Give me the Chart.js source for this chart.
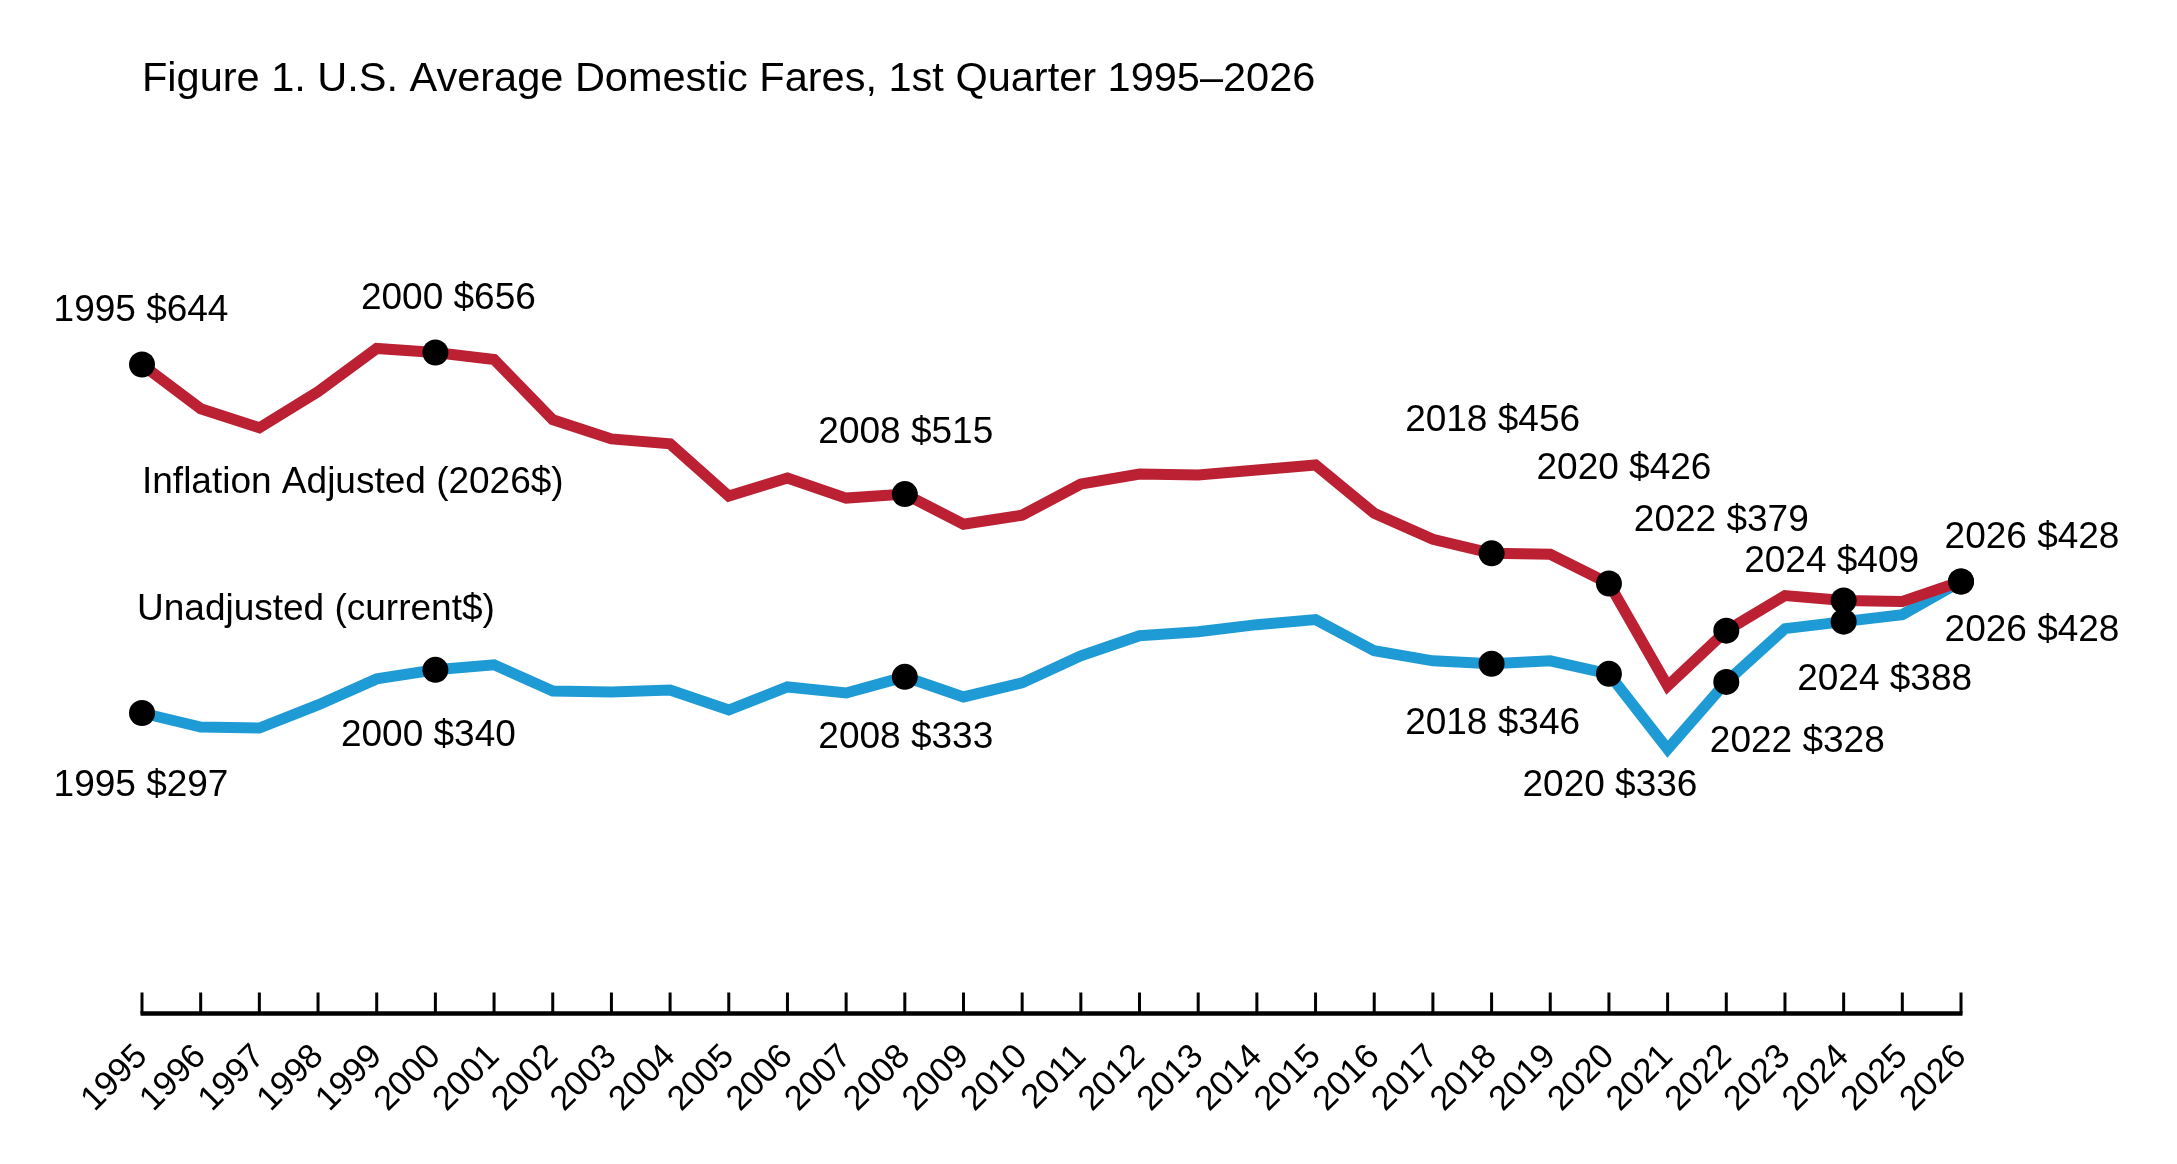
<!DOCTYPE html>
<html>
<head>
<meta charset="utf-8">
<title>U.S. Average Domestic Fares</title>
<script src="https://cdn.jsdelivr.net/npm/chart.js@4.4.1/dist/chart.umd.min.js"></script>
<style>
  html, body { margin: 0; padding: 0; background: #fff; }
  #wrap { width: 2177px; height: 1164px; position: relative; }
</style>
</head>
<body>
<div id="wrap"><canvas id="c"></canvas></div>
<script>
// ---- data
const years = [1995, 1996, 1997, 1998, 1999, 2000, 2001, 2002, 2003, 2004, 2005, 2006, 2007, 2008, 2009, 2010,
               2011, 2012, 2013, 2014, 2015, 2016, 2017, 2018, 2019, 2020, 2021, 2022, 2023, 2024, 2025, 2026];
const inflationAdjusted = [644, 600, 581, 617, 660, 656, 649, 589, 570, 565, 513, 531, 511, 515, 485, 494,
                           525, 535, 534, 539, 544, 496, 470, 456, 455, 426, 324, 379, 414, 409, 408, 428];
const unadjusted = [297, 283, 282, 305, 331, 340, 345, 319, 318, 320, 300, 323, 317, 333, 313, 327,
                    354, 374, 378, 385, 390, 359, 349, 346, 349, 336, 261, 328, 381, 388, 395, 428];

const titleText = "Figure 1. U.S. Average Domestic Fares, 1st Quarter 1995\u20132026";
const seriesNames = ["Inflation Adjusted (2026$)", "Unadjusted (current$)"];

// labelled points
const redNoteYears  = [1995, 2000, 2008, 2018, 2020, 2022, 2024, 2026];
const redNoteText   = ["1995 $644", "2000 $656", "2008 $515", "2018 $456", "2020 $426", "2022 $379", "2024 $409", "2026 $428"];
const blueNoteYears = [1995, 2000, 2008, 2018, 2020, 2022, 2024, 2026];
const blueNoteText  = ["1995 $297", "2000 $340", "2008 $333", "2018 $346", "2020 $336", "2022 $328", "2024 $388", "2026 $428"];

// ---- styling / placement
const FONT = "'Liberation Sans', Arial, Helvetica, sans-serif";
const RED = "#bb2033", BLUE = "#1e9ad5";
// text-centre offsets from each labelled dot, px
const redNoteOffsets  = [[-1, -54], [13, -54], [1, -61], [1, -133], [15, -115], [-5, -110], [-12, -39], [71, -44]];
const blueNoteOffsets = [[-1, 73], [-7, 66], [1, 61], [1, 60], [1, 112], [71, 60], [41, 58], [71, 49]];

const radiusFor = noteYears => years.map(y => noteYears.indexOf(y) >= 0 ? 13 : 0);

const notesPlugin = {
  id: "notes",
  afterDatasetsDraw(chart) {
    const ctx = chart.ctx;
    const x = chart.scales.x, y = chart.scales.y;
    ctx.save();
    ctx.fillStyle = "#000";
    ctx.font = "37px " + FONT;
    ctx.textAlign = "center";
    ctx.textBaseline = "middle";
    const put = (noteYears, texts, offs, vals) => noteYears.forEach((yr, i) => {
      const k = years.indexOf(yr);
      ctx.fillText(texts[i], x.getPixelForValue(k) + offs[i][0], y.getPixelForValue(vals[k]) + offs[i][1]);
    });
    put(redNoteYears, redNoteText, redNoteOffsets, inflationAdjusted);
    put(blueNoteYears, blueNoteText, blueNoteOffsets, unadjusted);
    // series names, left aligned at the first year
    ctx.textAlign = "left";
    const x0 = x.getPixelForValue(0);
    ctx.fillText(seriesNames[0], x0, y.getPixelForValue(inflationAdjusted[0]) + 118);
    ctx.fillText(seriesNames[1], x0 - 5, y.getPixelForValue(unadjusted[0]) - 103);
    ctx.restore();
  },
};

// axis line with tick marks pointing up into the plot
const axisPlugin = {
  id: "axisUp",
  afterDraw(chart) {
    const ctx = chart.ctx, x = chart.scales.x;
    const base = chart.chartArea.bottom;
    ctx.save();
    ctx.strokeStyle = "#000";
    ctx.lineWidth = 3;
    x.ticks.forEach((t, i) => {
      const px = x.getPixelForTick(i);
      ctx.beginPath();
      ctx.moveTo(px, base - 21);
      ctx.lineTo(px, base);
      ctx.stroke();
    });
    ctx.lineWidth = 4.5;
    ctx.beginPath();
    ctx.moveTo(x.getPixelForTick(0) - 1.5, base);
    ctx.lineTo(x.getPixelForTick(x.ticks.length - 1) + 1.5, base);
    ctx.stroke();
    ctx.restore();
  },
};

new Chart(document.getElementById("c"), {
  type: "line",
  data: {
    labels: years.map(String),
    datasets: [
      { label: seriesNames[0], data: inflationAdjusted, borderColor: RED, borderWidth: 11,
        pointRadius: radiusFor(redNoteYears), pointBackgroundColor: "#000", pointBorderWidth: 0 },
      { label: seriesNames[1], data: unadjusted, borderColor: BLUE, borderWidth: 11,
        pointRadius: radiusFor(blueNoteYears), pointBackgroundColor: "#000", pointBorderWidth: 0 },
    ],
  },
  options: {
    responsive: true, maintainAspectRatio: false, animation: false,
    layout: { padding: { left: 142, right: 216, top: 55, bottom: 0 } },
    elements: { line: { tension: 0, borderJoinStyle: "miter", borderCapStyle: "butt" } },
    datasets: { line: { clip: false } },
    plugins: {
      legend: { display: false },
      tooltip: { enabled: false },
      title: {
        display: true, text: titleText, align: "start", color: "#000",
        font: { family: FONT, size: 41.5, weight: "normal", lineHeight: 1.2 },
        padding: { top: 0, bottom: 15.4 },
      },
    },
    scales: {
      x: {
        offset: false,
        grid: { display: false },
        border: { display: false },
        ticks: { autoSkip: false, minRotation: 45, maxRotation: 45, color: "#000", padding: 15,
                 font: { family: FONT, size: 34.5 } },
        afterFit(s) { s.height = 150.5; },
      },
      y: { display: false, min: -2.2, max: 887.3 },
    },
  },
  plugins: [notesPlugin, axisPlugin],
});
</script>
</body>
</html>
